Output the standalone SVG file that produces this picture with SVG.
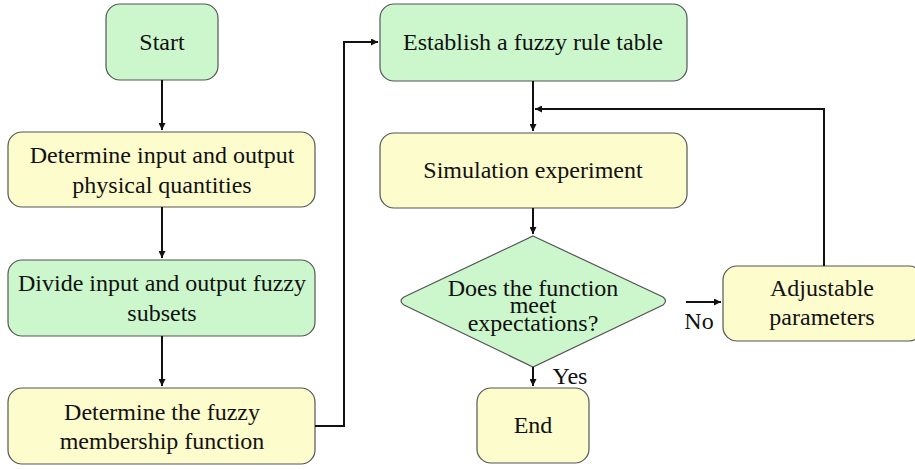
<svg xmlns="http://www.w3.org/2000/svg" width="915" height="470" viewBox="0 0 915 470">
<style>
.g{fill:#ccf7cc;stroke:#555;stroke-width:1.2}
.y{fill:#fdfccc;stroke:#555;stroke-width:1.2}
text{font-family:"Liberation Serif","Times New Roman",serif;font-size:24px;fill:#111;text-anchor:middle}
.c{fill:none;stroke:#111;stroke-width:2}
</style>
<defs>
<marker id="a" viewBox="0 0 10 10" refX="10" refY="5" markerWidth="7" markerHeight="7" markerUnits="userSpaceOnUse" orient="auto">
<path d="M0,0 L10,5 L0,10 z" fill="#111"/>
</marker>
</defs>
<rect width="915" height="470" fill="#fff"/>
<g id="start"><rect class="g" x="106" y="4" width="112" height="76" rx="14"/><text x="162" y="50">Start</text></g>
<g id="determine-io"><rect class="y" x="8" y="132" width="307" height="75" rx="14"/><text x="162" y="163">Determine input and output</text><text x="162" y="193">physical quantities</text></g>
<g id="divide"><rect class="g" x="8" y="260" width="307" height="76" rx="14"/><text x="162" y="291">Divide input and output fuzzy</text><text x="162" y="321">subsets</text></g>
<g id="membership"><rect class="y" x="8" y="388" width="307" height="76" rx="14"/><text x="162" y="420">Determine the fuzzy</text><text x="162" y="449">membership function</text></g>
<g id="rule-table"><rect class="g" x="380" y="4" width="307" height="77" rx="14"/><text x="533" y="50">Establish a fuzzy rule table</text></g>
<g id="simulation"><rect class="y" x="380" y="133" width="307" height="75" rx="14"/><text x="533" y="178">Simulation experiment</text></g>
<g id="decision"><path class="g" d="M533,236 L663,297 Q668,301 663,305 L533,367 L404,305 Q398,301 404,297 Z"/><text x="533" y="296">Does the function</text><text x="533" y="313">meet</text><text x="533" y="331">expectations?</text></g>
<g id="adjust"><rect class="y" x="723" y="266" width="200" height="75" rx="14"/><text x="822" y="296">Adjustable</text><text x="822" y="325">parameters</text></g>
<g id="end"><rect class="y" x="477" y="388" width="112" height="75" rx="14"/><text x="533" y="433">End</text></g>
<g id="connectors">
<path class="c" d="M162,80 V130" marker-end="url(#a)"/>
<path class="c" d="M162,207 V258" marker-end="url(#a)"/>
<path class="c" d="M162,336 V386" marker-end="url(#a)"/>
<path class="c" d="M315,426 H344 V42 H378" marker-end="url(#a)"/>
<path class="c" d="M533,81 V131" marker-end="url(#a)"/>
<path class="c" d="M533,208 V234" marker-end="url(#a)"/>
<path class="c" d="M533,367 V386" marker-end="url(#a)"/>
<path class="c" d="M686,302 H721" marker-end="url(#a)"/>
<path class="c" d="M824,266 V109 H535" marker-end="url(#a)"/>
<text x="570" y="384">Yes</text>
<text x="699" y="329">No</text>
</g>
</svg>
